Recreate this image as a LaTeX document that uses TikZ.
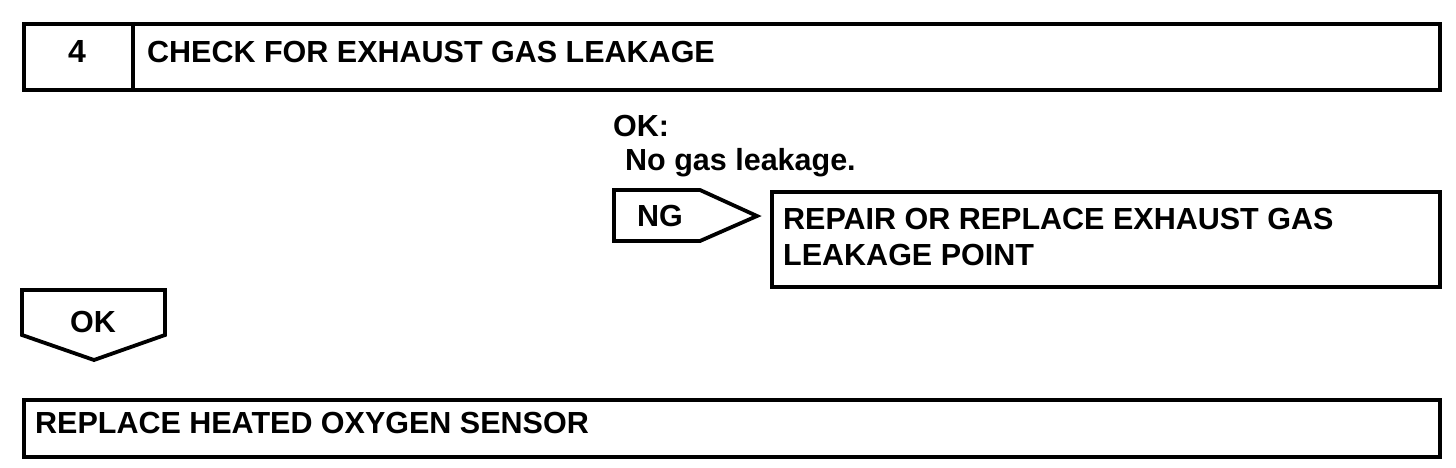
\documentclass[tikz,border=0pt]{standalone}
\usepackage{fontspec}
\setmainfont{Liberation Sans}
\usetikzlibrary{positioning}

\begin{document}
\begin{tikzpicture}[
          x=1pt,y=-1pt,
          every node/.style={font=\bfseries\fontsize{30.5}{36}\selectfont,inner sep=0pt},
          frame/.style={draw,line width=3.8pt,line join=miter,anchor=north west},
          tag/.style={draw,line width=3.8pt,line join=miter},
          lbl/.style={anchor=base west},
        ]
        \useasboundingbox (0,0) rectangle (1456,468);
        % step header
        \node[frame,minimum width=1416pt,minimum height=66pt] (head) at (22,22) {};
        \draw[line width=3.8pt] (133,22) -- (133,88);
        \node[anchor=base] (num) at (77,63) {\fontsize{32}{36}\selectfont 4};
        \node[lbl] (title) at (147,63) {CHECK FOR EXHAUST GAS LEAKAGE};
        % criterion
        \node[lbl] (okc) at (613,136) {OK:};
        \node[lbl] (crit) at (625,170) {No gas leakage.};
        % NG branch
        \coordinate (ngtip) at (757,216);
        \draw[tag] (614,190) -- (700,190) -- (ngtip) -- (700,241) -- (614,241) -- cycle;
        \node[lbl] (ng) at (637,226) {NG};
        \node[frame,minimum width=668pt,minimum height=95pt] (fix) at (770,190) {};
        \node[lbl] (fix1) at (783,229) {REPAIR OR REPLACE EXHAUST GAS};
        \node[lbl] (fix2) at (783,265) {LEAKAGE POINT};
        % OK branch
        \coordinate (oktip) at (94,360);
        \draw[tag] (22,290) -- (165,290) -- (165,335) -- (oktip) -- (22,335) -- cycle;
        \node[anchor=base] (ok) at (93,332) {OK};
        \node[frame,minimum width=1416pt,minimum height=57pt] (next) at (22,398) {};
        \node[lbl] (nexttxt) at (35,433) {REPLACE HEATED OXYGEN SENSOR};
      \end{tikzpicture}
\end{document}
